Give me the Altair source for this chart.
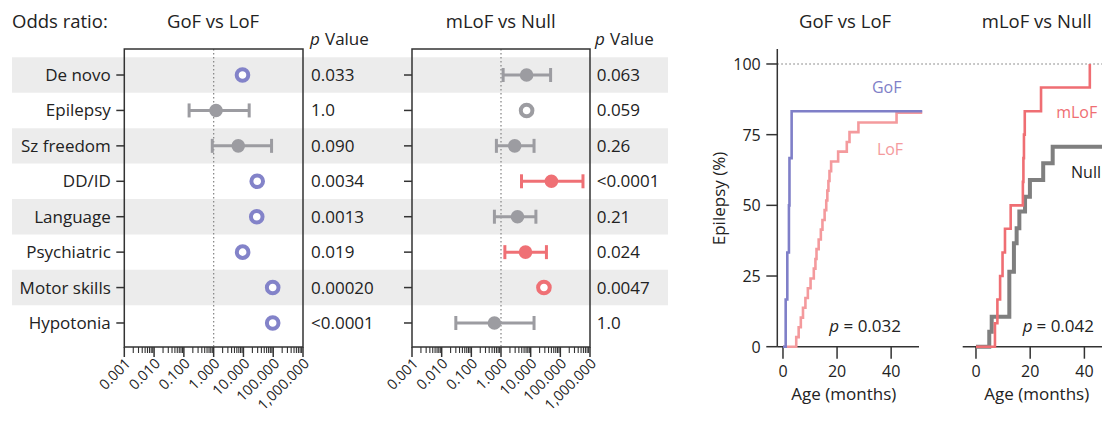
import altair as alt
import pandas as pd

FONT = "Open Sans"
INK = "#222222"
FRAME = "#333333"
GRAY = "#9c9ca1"
PURPLE = "#8383c9"
RED = "#ef7075"
BAND = "#ececec"
GOF_LINE = "#7f7fc8"
LOF_LINE = "#f49a9d"
MLOF_LINE = "#ef6e73"
NULL_LINE = "#7f7f7f"

# ---------------- data ----------------
rows = ["De novo", "Epilepsy", "Sz freedom", "DD/ID", "Language",
        "Psychiatric", "Motor skills", "Hypotonia"]

# GoF vs LoF odds ratios (None = no CI, drawn as open circle)
gof_or = [9.3, 1.2, 6.7, 29, 28, 9.4, 96, 96]
gof_lo = [None, 0.15, 0.9, None, None, None, None, None]
gof_hi = [None, 15.6, 88, None, None, None, None, None]
gof_sig = ["sig", "ns", "ns", "sig", "sig", "sig", "sig", "sig"]
gof_p = ["0.033", "1.0", "0.090", "0.0034", "0.0013", "0.019", "0.00020", "<0.0001"]

# mLoF vs Null odds ratios
mlof_or = [7.3, 7.3, 2.9, 50, 3.6, 6.7, 28, 0.6]
mlof_lo = [1.18, None, 0.7, 4.9, 0.6, 1.35, None, 0.03]
mlof_hi = [47, None, 13, 580, 15, 34, None, 13]
mlof_sig = ["ns", "ns", "ns", "sig", "ns", "sig", "sig", "ns"]
mlof_p = ["0.063", "0.059", "0.26", "<0.0001", "0.21", "0.024", "0.0047", "1.0"]

or_ticks = [0.001, 0.01, 0.1, 1, 10, 100, 1000]
or_tick_labels = ["0.001", "0.010", "0.100", "1.000", "10.000", "100.000", "1,000.000"]
or_minor = [m * d for d in [0.001, 0.01, 0.1, 1, 10, 100] for m in range(2, 10)]

# Kaplan-Meier curves (months, % with epilepsy)
gof_month = [0, 1.0, 1.6, 2.2, 2.4, 3.2, 51.5]
gof_pct = [0, 16.7, 33.3, 50.0, 66.7, 83.3, 83.3]
lof_month = [0, 4.9, 5.8, 6.6, 7.4, 8.3, 9.2, 10.2, 11.4, 12.0, 12.4, 13.2, 14.0,
             14.6, 15.4, 16.0, 16.4, 16.8, 17.2, 17.8, 20.4, 23.6, 24.6, 27.9, 42.0, 51.5]
lof_pct = [0, 3.4, 6.9, 10.3, 13.8, 17.2, 20.7, 24.1, 27.6, 31.0, 34.5, 37.9, 41.4,
           44.8, 48.3, 51.7, 55.2, 58.6, 62.1, 65.5, 69.0, 72.4, 75.9, 79.3, 82.8, 82.8]
mlof_month = [0, 7.0, 7.9, 8.9, 9.8, 10.7, 12.8, 17.3, 17.5, 17.7, 18.0, 24.0, 42.0]
mlof_pct = [0, 8.3, 16.7, 25.0, 33.3, 41.7, 50.0, 58.3, 66.7, 75.0, 83.3, 91.7, 100]
null_month = [0, 4.9, 5.8, 12.3, 14.0, 15.0, 16.0, 18.1, 19.9, 24.8, 28.3, 50.0]
null_pct = [0, 5.3, 10.6, 26.5, 36.6, 41.9, 47.8, 53.0, 59.0, 64.9, 70.7, 70.7]

km_y_ticks = [0, 25, 50, 75, 100]
km_x_ticks = [0, 20, 40]

# ---------------- layout (pixels in the view) ----------------
W, H = 1094, 407
ROW_RANGE = [49.3, 332.7]
A_RANGE = [116.3, 295.0]
B_RANGE = [404.0, 582.0]
TOP, BOTTOM = 41.0, 339.0
KM_Y_RANGE = [338.7, 41.0]
KM_BOTTOM = KM_Y_RANGE[0]
C_RANGE = [769.3, 911.0]
D_RANGE = [954.7, 1103.5]

one = pd.DataFrame({"a": [0]})


def txt(s, x, y, size=17, align="left", color=INK, style="normal", angle=0,
        baseline="alphabetic"):
    return alt.Chart(pd.DataFrame({"t": [s]})).mark_text(
        align=align, baseline=baseline, fontSize=size, color=color,
        fontStyle=style, angle=angle, font=FONT
    ).encode(x=alt.value(x), y=alt.value(y), text="t:N")


def vline(x, y1, y2, width=1.5):
    return alt.Chart(one).mark_rule(color=FRAME, strokeWidth=width).encode(
        x=alt.value(x), y=alt.value(y1), y2=alt.value(y2))


def hline(x1, x2, y, width=1.5):
    return alt.Chart(one).mark_rule(color=FRAME, strokeWidth=width).encode(
        x=alt.value(x1), x2=alt.value(x2), y=alt.value(y))


def forest(orv, lo, hi, sig, p, xr, sig_color, show_labels, pv_x, with_bands):
    df = pd.DataFrame({"row": rows, "or": orv, "lo": lo, "hi": hi, "sig": sig, "p": p})
    xs = alt.Scale(type="log", domain=[0.001, 1000], range=xr, nice=False)
    ys = alt.Scale(type="band", domain=rows, range=ROW_RANGE, paddingInner=0, paddingOuter=0)
    cs = alt.Scale(domain=["sig", "ns"], range=[sig_color, GRAY])
    Y = alt.Y("row:N", scale=ys, axis=None)
    C = alt.Color("sig:N", scale=cs, legend=None)
    ci = df[df["lo"].notna()]
    op = df[df["lo"].isna()]
    ticks = pd.DataFrame({"v": or_ticks, "lab": or_tick_labels})
    layers = []
    if with_bands:
        layers.append(alt.Chart(df[df["row"].isin(rows[::2])]).mark_rect(color=BAND).encode(
            y=Y, x=alt.value(4), x2=alt.value(660)))
    # reference line at OR = 1
    layers.append(alt.Chart(pd.DataFrame({"v": [1]})).mark_rule(
        strokeDash=[1.5, 2.5], color="#8a8a8a", strokeWidth=1.3).encode(
        x=alt.X("v:Q", scale=xs, axis=None), y=alt.value(TOP), y2=alt.value(BOTTOM)))
    # frame
    layers.append(alt.Chart(one).mark_rect(filled=False, stroke=FRAME, strokeWidth=1.5).encode(
        x=alt.value(xr[0]), x2=alt.value(xr[1]), y=alt.value(TOP), y2=alt.value(BOTTOM)))
    # x axis ticks (major + minor) and labels
    layers.append(alt.Chart(pd.DataFrame({"m": or_minor})).mark_rule(
        color=FRAME, strokeWidth=1.1).encode(
        x=alt.X("m:Q", scale=xs, axis=None), y=alt.value(BOTTOM), y2=alt.value(BOTTOM + 6)))
    layers.append(alt.Chart(ticks).mark_rule(color=FRAME, strokeWidth=1.5).encode(
        x=alt.X("v:Q", scale=xs, axis=None), y=alt.value(BOTTOM), y2=alt.value(BOTTOM + 10)))
    layers.append(alt.Chart(ticks).mark_text(
        angle=315, align="right", baseline="top", fontSize=14.5, color=INK, font=FONT, dx=-1
    ).encode(
        x=alt.X("v:Q", scale=xs, axis=None), y=alt.value(BOTTOM + 9), text="lab:N"))
    # y axis ticks and labels
    layers.append(alt.Chart(df).mark_rule(color=FRAME, strokeWidth=1.5).encode(
        y=Y, x=alt.value(xr[0] - 8), x2=alt.value(xr[0])))
    if show_labels:
        layers.append(alt.Chart(df).mark_text(
            align="right", baseline="alphabetic", dy=6, fontSize=17, color=INK, font=FONT).encode(
            y=Y, x=alt.value(xr[0] - 13.5), text="row:N"))
    # CIs and points
    layers.append(alt.Chart(ci).mark_rule(strokeWidth=3).encode(
        x=alt.X("lo:Q", scale=xs, axis=None), x2="hi:Q", y=Y, color=C))
    for f in ["lo", "hi"]:
        layers.append(alt.Chart(ci).mark_tick(thickness=3, size=14, opacity=1).encode(
            x=alt.X(f + ":Q", scale=xs, axis=None), y=Y, color=C))
    layers.append(alt.Chart(ci).mark_point(filled=True, size=185, opacity=1).encode(
        x=alt.X("or:Q", scale=xs, axis=None), y=Y, color=C))
    layers.append(alt.Chart(op).mark_point(filled=False, fill="white", size=135,
                                           strokeWidth=4, opacity=1).encode(
        x=alt.X("or:Q", scale=xs, axis=None), y=Y, color=C))
    # p values
    layers.append(alt.Chart(df).mark_text(align="left", baseline="alphabetic", dy=6,
                                          fontSize=17, color=INK, font=FONT).encode(
        x=alt.value(pv_x), y=Y, text="p:N"))
    return alt.layer(*layers)


panelA = alt.layer(
    forest(gof_or, gof_lo, gof_hi, gof_sig, gof_p, A_RANGE, PURPLE, True, 303, True),
    txt("Odds ratio:", 4, 20.3, size=18.5),
    txt("GoF vs LoF", 205, 20.3, size=18.5, align="center"),
    txt("p", 302, 37, style="italic"),
    txt("Value", 317, 37),
)

panelB = alt.layer(
    forest(mlof_or, mlof_lo, mlof_hi, mlof_sig, mlof_p, B_RANGE, RED, False, 588.7, False),
    txt("mLoF vs Null", 492.7, 20.3, size=18.5, align="center"),
    txt("p", 587, 37, style="italic"),
    txt("Value", 602, 37),
)


def km_df(month, pct):
    return pd.DataFrame({"month": month, "pct": pct})


kmy = alt.Scale(domain=[0, 105.3], range=KM_Y_RANGE, nice=False, zero=False)
xC = alt.Scale(domain=[-2.1, 50.3], range=C_RANGE, nice=False, zero=False)
xD = alt.Scale(domain=[-4.9, 50.0], range=D_RANGE, nice=False, zero=False)
KY = alt.Y("pct:Q", scale=kmy, axis=None)


def km_xaxis(xs, xr):
    t = pd.DataFrame({"v": km_x_ticks})
    return [
        hline(xr[0], xr[1], KM_BOTTOM),
        alt.Chart(t).mark_rule(color=FRAME, strokeWidth=1.5).encode(
            x=alt.X("v:Q", scale=xs, axis=None), y=alt.value(KM_BOTTOM),
            y2=alt.value(KM_BOTTOM + 12)),
        alt.Chart(t).mark_text(align="center", baseline="alphabetic", fontSize=16,
                               color=INK, font=FONT).encode(
            x=alt.X("v:Q", scale=xs, axis=None), y=alt.value(368.7), text="v:Q"),
    ]


yt = pd.DataFrame({"v": km_y_ticks})
km_yaxis = [
    vline(C_RANGE[0], KM_Y_RANGE[1], KM_Y_RANGE[0]),
    alt.Chart(yt).mark_rule(color=FRAME, strokeWidth=1.5).encode(
        y=alt.Y("v:Q", scale=kmy, axis=None), x=alt.value(C_RANGE[0] - 11),
        x2=alt.value(C_RANGE[0])),
    alt.Chart(yt).mark_text(align="right", baseline="alphabetic", dy=6, fontSize=16,
                            color=INK, font=FONT).encode(
        y=alt.Y("v:Q", scale=kmy, axis=None), x=alt.value(752.7), text="v:Q"),
]

panelC = alt.layer(
    alt.Chart(pd.DataFrame({"v": [100]})).mark_rule(
        strokeDash=[1.5, 2.5], color="#a0a0a0", strokeWidth=1.3).encode(
        y=alt.Y("v:Q", scale=kmy, axis=None), x=alt.value(C_RANGE[0]), x2=alt.value(W)),
    *km_yaxis,
    *km_xaxis(xC, C_RANGE),
    alt.Chart(km_df(lof_month, lof_pct)).mark_line(
        interpolate="step-after", color=LOF_LINE, strokeWidth=2.6).encode(
        x=alt.X("month:Q", scale=xC, axis=None), y=KY),
    alt.Chart(km_df(gof_month, gof_pct)).mark_line(
        interpolate="step-after", color=GOF_LINE, strokeWidth=2.6).encode(
        x=alt.X("month:Q", scale=xC, axis=None), y=KY),
    txt("GoF vs LoF", 837, 20.3, size=18.5, align="center"),
    txt("Epilepsy (%)", 712, 190.5, size=17, align="center", angle=270, baseline="middle"),
    txt("Age (months)", 835.8, 392, size=17, align="center"),
    txt("GoF", 878.7, 80, size=16, align="center", color=GOF_LINE, baseline="middle"),
    txt("LoF", 882, 142, size=16, align="center", color=LOF_LINE, baseline="middle"),
    txt("p", 821.3, 323.7, style="italic"),
    txt("= 0.032", 835.5, 323.7),
)

panelD = alt.layer(
    *km_xaxis(xD, D_RANGE),
    alt.Chart(km_df(null_month, null_pct)).mark_line(
        interpolate="step-after", color=NULL_LINE, strokeWidth=4).encode(
        x=alt.X("month:Q", scale=xD, axis=None), y=KY),
    alt.Chart(km_df(mlof_month, mlof_pct)).mark_line(
        interpolate="step-after", color=MLOF_LINE, strokeWidth=2.6).encode(
        x=alt.X("month:Q", scale=xD, axis=None), y=KY),
    txt("mLoF vs Null", 1028.7, 20.3, size=18.5, align="center"),
    txt("Age (months)", 1028.7, 392, size=17, align="center"),
    txt("mLoF", 1068.7, 105, size=16, align="center", color=MLOF_LINE, baseline="middle"),
    txt("Null", 1078, 165, size=16, align="center", color=INK, baseline="middle"),
    txt("p", 1014.7, 323.7, style="italic"),
    txt("= 0.042", 1028.5, 323.7),
)

chart = alt.layer(panelA, panelB, panelC, panelD).resolve_scale(
    x="independent", y="independent", color="independent"
).properties(
    width=W, height=H, padding=0, autosize=alt.AutoSizeParams(type="none")
).configure(font=FONT, view=alt.ViewConfig(strokeWidth=0))

chart.save("out.html", embed_options={"renderer": "svg", "actions": False})
